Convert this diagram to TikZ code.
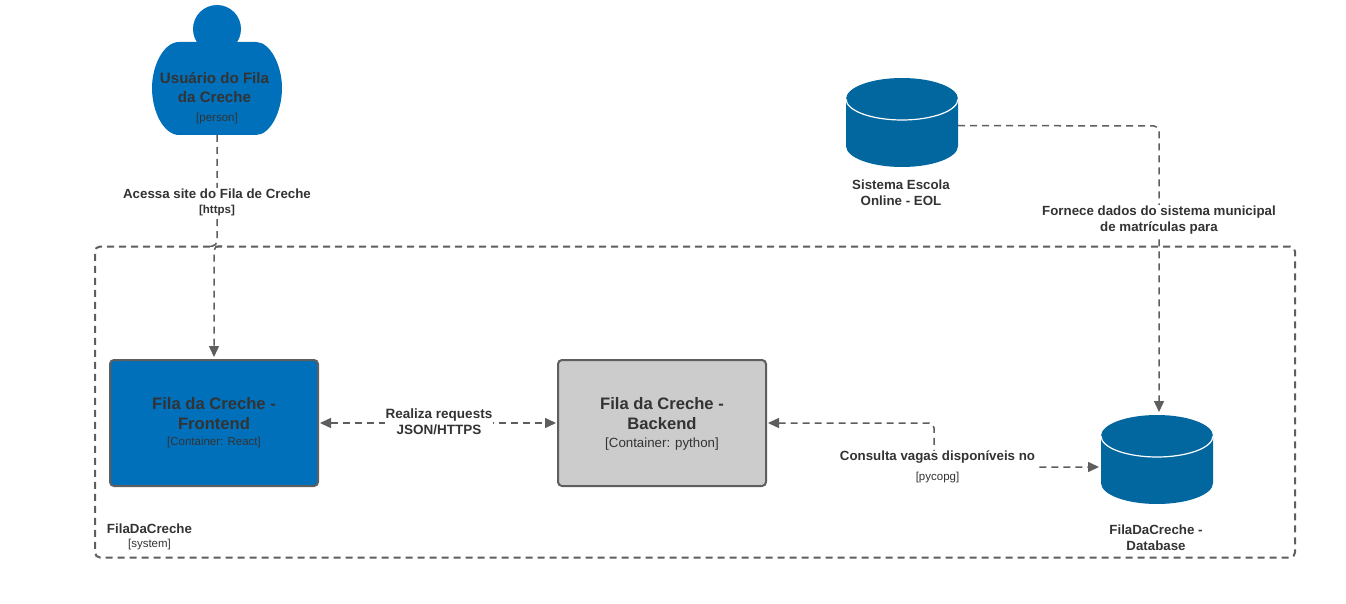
\documentclass[tikz,border=0pt]{standalone}
\usepackage{fontspec}
\setmainfont{Liberation Sans}
\usetikzlibrary{arrows.meta,calc}
\definecolor{blueA}{HTML}{0070BB}
\definecolor{blueB}{HTML}{02669F}
\definecolor{grayA}{HTML}{CCCCCC}
\definecolor{edgeC}{HTML}{5E5E5E}
\definecolor{txt}{HTML}{333333}
\tikzset{
 x=1pt,y=-1pt,
 conn/.style={draw=edgeC,line width=1.5pt,dash pattern=on 7pt off 5pt,rounded corners=5pt},
 tip/.style={-{Triangle[length=11pt,width=10pt,fill=edgeC,color=edgeC]}},
 tips/.style={{Triangle[length=11pt,width=10pt,fill=edgeC,color=edgeC]}-{Triangle[length=11pt,width=10pt,fill=edgeC,color=edgeC]}},
 box/.style={draw=edgeC,line width=2pt,rounded corners=4pt,minimum width=208pt,minimum height=126pt,inner sep=0pt},
 ghost/.style={inner sep=0pt,outer sep=0pt},
 lab/.style={text=txt,align=center,font=\fontsize{13.3}{16}\selectfont\bfseries,inner sep=0pt},
 sub/.style={text=txt,align=center,font=\fontsize{11.5}{13}\selectfont,inner sep=0pt},
 ttl/.style={text=txt,align=center,font=\fontsize{16.6}{20}\selectfont\bfseries,inner sep=0pt},
}
\newcommand{\cylshape}[3]{% name, cx, top y
 \fill[blueB] (#2-56,#3+21) arc[x radius=56,y radius=21,start angle=180,end angle=360]
   -- (#2+56,#3+68) arc[x radius=56,y radius=21,start angle=0,end angle=180] -- cycle;
 \draw[white,line width=1.2pt] (#2-56,#3+21) arc[x radius=56,y radius=21,start angle=180,end angle=0];
 \node[ghost,minimum width=112pt,minimum height=89pt] (#1) at (#2,#3+44.5) {};
}
\begin{document}
\begin{tikzpicture}
\useasboundingbox (0,0) rectangle (1346,604);
% container
\node[draw=edgeC,line width=2pt,dash pattern=on 7pt off 5pt,rounded corners=5pt,minimum width=1200pt,minimum height=311pt,inner sep=0pt] (sys) at (695,402) {};
% person
\fill[blueA] (217,29) circle[radius=24];
\fill[blueA] (179,42) -- (256,42) .. controls (270,42) and (282,65) .. (282,88)
  .. controls (282,112) and (270,135) .. (256,135) -- (179,135)
  .. controls (164,135) and (152,112) .. (152,88) .. controls (152,65) and (164,42) .. (179,42) -- cycle;
\node[ghost,minimum width=130pt,minimum height=93pt] (person) at (217,88.5) {};
\node[lab,font=\fontsize{15.1}{19}\selectfont\bfseries] (personT) at (214.5,88) {Usuário do Fila\\da Creche};
\node[sub] (personS) at (217,119) {[person]};
% boxes
\node[box,fill=blueA] (front) at (214,423) {};
\node[ttl] (frontT) at (214,413.5) {Fila da Creche -\\Frontend};
\node[sub] (frontS) at (214,443) {[Container: React]};
\node[box,fill=grayA] (back) at (662,423) {};
\node[ttl] (backT) at (662,413.5) {Fila da Creche -\\Backend};
\node[sub,font=\fontsize{13.3}{15}\selectfont] (backS) at (662,444) {[Container: python]};
% cylinders
\cylshape{eol}{902}{78}
\cylshape{db}{1157}{415}
\node[lab] (eolT) at (901,192.5) {Sistema Escola\\Online - EOL};
\node[lab] (dbT) at (1156,537.5) {FilaDaCreche -\\Database};
% system label
\node[lab] (sysT) at (149.5,528.5) {FilaDaCreche};
\node[sub] (sysS) at (149.5,544.5) {[system]};
% connector anchors
\coordinate (c1) at (214,246);
\coordinate (c2) at (217,246);
\coordinate (c3) at (1159,126);
\coordinate (c4) at (934,423);
\coordinate (c5) at (934,467);
% connectors
\draw[conn,tip] (person.south -| c2) -- (c2) -- (c1) -- ($(front.north -| c1)+(0,-2)$);
\draw[conn,tip] ($(eol.east)+(0,3)$) -- (c3) -- ($(db.north -| c3)+(0,-3)$);
\draw[conn,tips] ($(front.east)+(1,0)$) -- ($(back.west)+(-1,0)$);
\draw[conn,tips] ($(back.east)+(1,0)$) -- (c4) -- (c5) -- ($(db.west |- c5)+(-2,0)$);
% edge labels
\node[lab,fill=white,inner xsep=0pt,inner ysep=1pt] (l1) at (217,202.5) {Acessa site do Fila de Creche\\[-1pt]{\fontsize{11.5}{13}\selectfont [https]}};
\node[lab,fill=white,inner xsep=1pt,inner ysep=1pt] (l2) at (1159,220.5) {Fornece dados do sistema municipal\\de matrículas para};
\node[lab,font=\fontsize{13.5}{16}\selectfont\bfseries,fill=white,inner xsep=1pt,inner ysep=1pt] (l3) at (439,421.5) {Realiza requests\\JSON/HTTPS};
\node[lab,fill=white,inner xsep=0pt,inner ysep=-1pt] (l4) at (937.5,466.5) {Consulta vagas disponíveis no\\[4pt]{\fontsize{11.5}{13}\selectfont\mdseries [pycopg]}};
\end{tikzpicture}
\end{document}
